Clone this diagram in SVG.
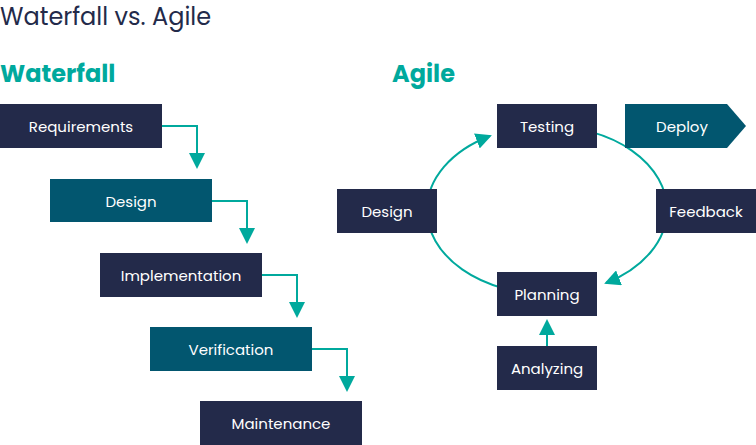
<svg xmlns="http://www.w3.org/2000/svg" width="756" height="445" viewBox="0 0 756 445">
<style>
.navy{fill:#232a4a}.teal{fill:#02566f}
.t{font-family:Poppins,"Noto Sans",sans-serif;font-size:15px;fill:#fff;text-anchor:middle;dominant-baseline:central}
.c{fill:none;stroke:#00a99d;stroke-width:2}
.h{font-family:Poppins,"Noto Sans",sans-serif;font-size:24px;font-weight:bold;fill:#00a99d}
</style>
<defs><marker id="a" markerUnits="userSpaceOnUse" markerWidth="16" markerHeight="16" refX="14" refY="8" orient="auto"><path d="M0,0 L16,8 L0,16 Z" fill="#00a99d"/></marker></defs>
<rect width="756" height="445" fill="#fff"/>
<text x="0" y="25" font-family="Poppins,'Noto Sans',sans-serif" font-size="24" fill="#232a4a">Waterfall vs. Agile</text>
<text class="h" x="0" y="82">Waterfall</text>
<text class="h" x="392" y="82">Agile</text>
<g id="connectors">
<path class="c" d="M162,126 H197 V167" marker-end="url(#a)"/>
<path class="c" d="M212,201 H247 V242" marker-end="url(#a)"/>
<path class="c" d="M262,275 H297 V316" marker-end="url(#a)"/>
<path class="c" d="M312,349 H347 V390" marker-end="url(#a)"/>
<path class="c" d="M427,210 A120,84 0 0 1 490,136" marker-end="url(#a)"/>
<path class="c" d="M547,126 A120,84 0 0 1 667,210 A120,84 0 0 1 606,283" marker-end="url(#a)"/>
<path class="c" d="M547,294 A120,84 0 0 1 427,210"/>
<path class="c" d="M547,346 V321" marker-end="url(#a)"/>
</g>
<g id="requirements"><rect class="navy" x="0" y="104" width="162" height="44"/><text class="t" x="81" y="126">Requirements</text></g>
<g id="design-w"><rect class="teal" x="50" y="179" width="162" height="43"/><text class="t" x="131" y="201">Design</text></g>
<g id="implementation"><rect class="navy" x="100" y="253" width="162" height="44"/><text class="t" x="181" y="275">Implementation</text></g>
<g id="verification"><rect class="teal" x="150" y="327" width="162" height="44"/><text class="t" x="231" y="349">Verification</text></g>
<g id="maintenance"><rect class="navy" x="200" y="401" width="162" height="44"/><text class="t" x="281" y="423">Maintenance</text></g>
<g id="testing"><rect class="navy" x="497" y="104" width="100" height="44"/><text class="t" x="547" y="126">Testing</text></g>
<g id="deploy"><path class="teal" d="M625,104 H727 L746,126 L727,148 H625 Z"/><text class="t" x="682" y="126">Deploy</text></g>
<g id="design-a"><rect class="navy" x="337" y="189" width="100" height="44"/><text class="t" x="387" y="211">Design</text></g>
<g id="feedback"><rect class="navy" x="656" y="189" width="100" height="44"/><text class="t" x="706" y="211">Feedback</text></g>
<g id="planning"><rect class="navy" x="497" y="272" width="100" height="44"/><text class="t" x="547" y="294">Planning</text></g>
<g id="analyzing"><rect class="navy" x="497" y="346" width="100" height="44"/><text class="t" x="547" y="368">Analyzing</text></g>
</svg>
